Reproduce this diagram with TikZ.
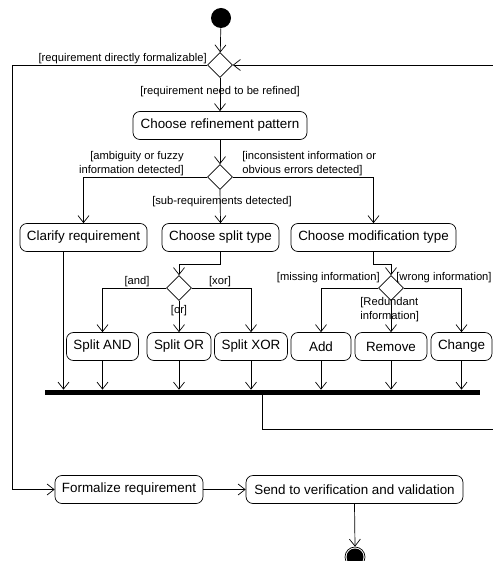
\documentclass[tikz,border=0pt]{standalone}
\usepackage{fontspec}
\setmainfont{Liberation Sans}
\usetikzlibrary{arrows.meta,shapes.geometric,calc}

\begin{document}
\begin{tikzpicture}[x=1pt,y=-1pt,line width=0.7pt,
  act/.style={draw,rounded corners=7pt,minimum height=28pt,inner xsep=7pt,
    font=\fontsize{13.4}{15}\selectfont},
  dec/.style={draw,diamond,aspect=1,minimum size=25pt,inner sep=0pt},
  guard/.style={inner sep=0pt,font=\fontsize{11.2}{14}\selectfont},
  flow/.style={-{Straight Barb[length=7pt,width=11pt]}}]
  \useasboundingbox (0,0) rectangle (492,561);
  % nodes
  \node[circle,fill=black,minimum size=20pt,inner sep=0pt](start) at (221,18){};
  \node[dec](d1) at (220,65){};
  \node[act,minimum width=174pt](refine) at (220,125.5){Choose refinement pattern};
  \node[dec](d2) at (220,177){};
  \node[act,minimum width=127pt](clarify) at (83.5,237.5){Clarify requirement};
  \node[act,minimum width=117pt](split) at (220.5,237.5){Choose split type};
  \node[act,minimum width=165pt](modify) at (373.5,237.5){Choose modification type};
  \node[dec](d3) at (179,288){};
  \node[dec](d4) at (391,288){};
  \node[act,minimum width=71pt](sand) at (102.5,346.5){Split AND};
  \node[act,minimum width=64pt](sor) at (179,346.5){Split OR};
  \node[act,minimum width=72pt](sxor) at (251,346.5){Split XOR};
  \node[act,minimum width=60pt](add) at (321,346.5){Add};
  \node[act,minimum width=72pt](remove) at (391,346.5){Remove};
  \node[act,minimum width=59pt](change) at (461.5,346.5){Change};
  \node[fill=black,minimum width=435pt,minimum height=5pt,inner sep=0pt](bar) at (262.5,392.5){};
  \node[act,minimum width=148pt](formalize) at (129,489.5){Formalize requirement};
  \node[act,minimum width=217pt](send) at (354.5,489.5){Send to verification and validation};
  \node[circle,draw,minimum size=20pt,inner sep=0pt](stop) at (355,557){};
  \fill (stop) circle (8.5pt);
  \coordinate(loopl) at (12,65);
  \coordinate(loopr) at (500,429);
  % flows
  \draw[flow](start)--(d1);
  \draw[flow](d1.west)--(loopl)|-(formalize.west);
  \draw[flow](d1.south)--(refine.north);
  \draw[flow](refine.south)--(d2.north);
  \draw[flow](d2.west)-|(clarify.north);
  \draw[flow](d2.south)--(split.north);
  \draw[flow](d2.east)-|(modify.north);
  \draw[flow](split.south)--++(0,12)-|(d3.north);
  \draw[flow](modify.south)--++(0,12)-|(d4.north);
  \draw[flow](d3.west)-|(sand.north);
  \draw[flow](d3.south)--(sor.north);
  \draw[flow](d3.east)-|(sxor.north);
  \draw[flow](d4.west)-|(add.north);
  \draw[flow](d4.south)--(remove.north);
  \draw[flow](d4.east)-|(change.north);
  \draw[flow]([xshift=-20pt]clarify.south)--([xshift=-20pt]clarify.south|-bar.north);
  \foreach \n in {sand,sor,sxor,add,remove,change}
    \draw[flow](\n.south)--(\n.south|-bar.north);
  \draw[flow](bar.south)|-(loopr)|-(d1.east);
  \draw[flow](formalize.east)--(send.west);
  \draw[flow](send.south)--(stop.north);
  % guards
  \node[guard,anchor=east](g1) at (207,59){[requirement directly formalizable]};
  \node[guard](g2) at (220,92){[requirement need to be refined]};
  \node[guard,anchor=east,align=right](g3) at (184,164){[ambiguity or fuzzy\\information detected]};
  \node[guard,anchor=west,align=left](g4) at (242,164){[inconsistent information or\\obvious errors detected]};
  \node[guard](g5) at (222,201.5){[sub-requirements detected]};
  \node[guard](g6) at (137,282){[and]};
  \node[guard](g7) at (220,282){[xor]};
  \node[guard](g8) at (179,311){[or]};
  \node[guard,anchor=east](g9) at (380,278){[missing information]};
  \node[guard,anchor=west](g10) at (396,278){[wrong information]};
  \node[guard,anchor=west,align=left](g11) at (360,310){[Redundant\\information]};
\end{tikzpicture}
\end{document}
